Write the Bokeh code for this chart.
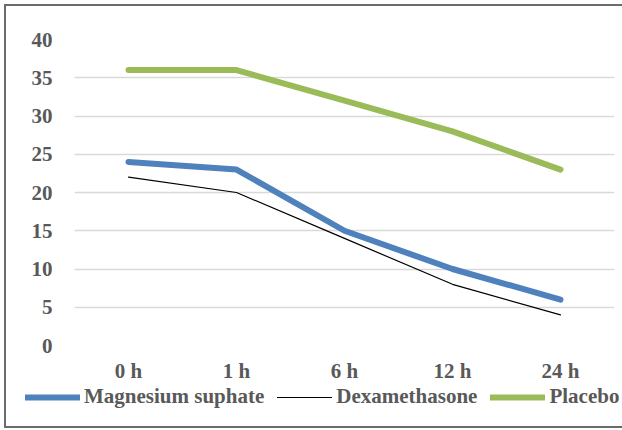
from bokeh.plotting import figure
from bokeh.layouts import column
from bokeh.models import Range1d, FactorRange, Legend, LegendItem, SingleIntervalTicker
from bokeh.embed import file_html
from bokeh.resources import INLINE

times = ["0 h", "1 h", "6 h", "12 h", "24 h"]
magnesium = [24, 23, 15, 10, 6]
dexamethasone = [22, 20, 14, 8, 4]
placebo = [36, 36, 32, 28, 23]
series_names = ["Magnesium suphate", "Dexamethasone", "Placebo"]

FONT = "Liberation Serif"
TXT = "#595959"
COLORS = ["#4F81BD", "black", "#9BBB59"]
WIDTHS = [6, 1.2, 6]

p = figure(frame_width=540, frame_height=306, x_range=FactorRange(*times), y_range=Range1d(0, 40),
           output_backend="svg", toolbar_location=None,
           min_border_left=68, min_border_right=8, min_border_top=33, min_border_bottom=38)
p.x_range.range_padding = 0
p.outline_line_color = None
p.background_fill_color = "white"
p.border_fill_color = "white"

for vals, c, w in zip([magnesium, dexamethasone, placebo], COLORS, WIDTHS):
    p.line(times, vals, line_color=c, line_width=w, line_cap="round", line_join="round")

p.xgrid.grid_line_color = None
p.ygrid.grid_line_color = "#D9D9D9"
p.ygrid.grid_line_width = 1.5
p.yaxis.ticker = SingleIntervalTicker(interval=5)

for ax in (p.xaxis[0], p.yaxis[0]):
    ax.axis_line_color = None
    ax.major_tick_line_color = None
    ax.minor_tick_line_color = None
    ax.major_tick_out = 0
    ax.major_tick_in = 0
    ax.major_label_text_font = FONT
    ax.major_label_text_font_style = "bold"
    ax.major_label_text_font_size = "21px"
    ax.major_label_text_color = TXT
p.yaxis.major_label_standoff = 18
p.xaxis.major_label_standoff = 13

# legend strip (separate figure so the legend is not clipped by the main frame);
# its proxy lines carry the same series but lie outside this strip's visible range
q = figure(frame_width=616, frame_height=41, x_range=Range1d(0, 1), y_range=Range1d(-2, -1),
           output_backend="svg", toolbar_location=None, min_border=0)
q.axis.visible = False
q.grid.visible = False
q.outline_line_color = None
q.background_fill_color = "white"
q.border_fill_color = "white"
items = []
for name, vals, c, w in zip(series_names, [magnesium, dexamethasone, placebo], COLORS, WIDTHS):
    r = q.line(list(range(len(times))), vals, line_color=c, line_width=w, line_cap="round")
    items.append(LegendItem(label=name, renderers=[r]))

legend = Legend(items=items, orientation="horizontal", location=(19, 17),
                glyph_width=55, glyph_height=20, label_standoff=4, spacing=13,
                padding=0, margin=0, border_line_color=None, background_fill_alpha=0,
                label_text_font=FONT, label_text_font_style="bold",
                label_text_font_size="21px", label_text_color=TXT)
q.add_layout(legend, "center")

layout = column(p, q, spacing=0,
                styles={"border": "2px solid #6b6b6b", "margin-left": "4px", "margin-top": "4px",
                        "background-color": "white"})

open("out.html", "w").write(file_html(layout, INLINE))
